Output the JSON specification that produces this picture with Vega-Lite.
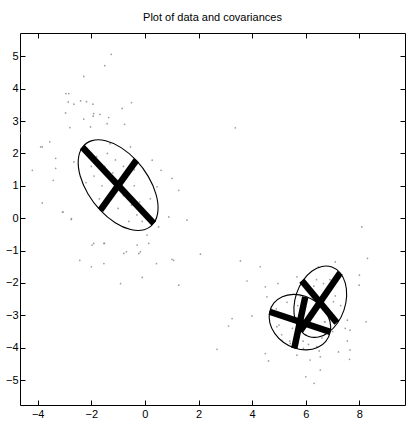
{
  "$schema": "https://vega.github.io/schema/vega-lite/v6.json",
  "autosize": "none",
  "width": 385,
  "height": 372,
  "padding": {"left": 20, "top": 33, "right": 1, "bottom": 20},
  "background": "white",
  "view": {"stroke": null},
  "title": {"text": "Plot of data and covariances", "font": "Liberation Sans", "fontSize": 11, "fontWeight": "normal", "color": "black", "offset": 10, "anchor": "middle"},
  "config": {
    "axis": {"domainColor": "black", "tickColor": "black", "labelColor": "black", "labelFont": "Liberation Sans", "labelFontSize": 11, "grid": false, "title": null, "tickSize": -5, "domainWidth": 1, "tickWidth": 1}
  },
  "datasets": {
    "pts": [
      {"x": -1.26, "y": 5.06}, {"x": -1.5, "y": 4.71}, {"x": -2.28, "y": 4.38}, {"x": -2.84, "y": 3.85}, {"x": -2.95, "y": 3.85},
      {"x": -2.86, "y": 3.59}, {"x": -2.4, "y": 3.62}, {"x": -2.18, "y": 3.6}, {"x": -2.65, "y": 3.52}, {"x": -1.94, "y": 3.52},
      {"x": -0.5, "y": 3.57}, {"x": -0.85, "y": 3.39}, {"x": -2.96, "y": 3.25}, {"x": -1.68, "y": 3.21}, {"x": -1.93, "y": 3.15},
      {"x": -1.35, "y": 3.11}, {"x": -2.28, "y": 3.06}, {"x": -0.76, "y": 2.9}, {"x": -2.8, "y": 2.8}, {"x": -2.03, "y": 2.82},
      {"x": -3.42, "y": 1.17}, {"x": -3.83, "y": 2.2}, {"x": -3.33, "y": 1.85}, {"x": -3.33, "y": 1.54}, {"x": -2.65, "y": 1.74},
      {"x": -3.08, "y": 0.19}, {"x": -2.74, "y": -0.01}, {"x": -1.91, "y": -0.78}, {"x": -1.53, "y": -0.78}, {"x": -0.17, "y": -1.04},
      {"x": 0.08, "y": -0.52}, {"x": 0.51, "y": -0.27}, {"x": 0.89, "y": 0.04}, {"x": 1.26, "y": 0.86}, {"x": 1.57, "y": -0.06},
      {"x": 1.01, "y": 1.23}, {"x": 0.27, "y": 1.79}, {"x": 0.6, "y": 1.48}, {"x": 0.45, "y": 0.97}, {"x": -0.79, "y": -1.09},
      {"x": 1.07, "y": -1.3}, {"x": -0.54, "y": 2.2}, {"x": -1.41, "y": 2.92}, {"x": -1.91, "y": 3.23}, {"x": -3.83, "y": 0.47},
      {"x": -3.05, "y": 0.19}, {"x": -2.75, "y": -0.04}, {"x": -2.43, "y": -1.3}, {"x": -2.0, "y": -1.5}, {"x": -1.51, "y": -0.78},
      {"x": -1.53, "y": -1.4}, {"x": -0.91, "y": -2.02}, {"x": -0.1, "y": -1.83}, {"x": -0.69, "y": -1.04}, {"x": -0.29, "y": -0.83},
      {"x": -0.23, "y": -1.09}, {"x": 0.14, "y": -0.78}, {"x": -1.97, "y": -0.83}, {"x": -4.64, "y": 2.62}, {"x": -4.2, "y": 1.48},
      {"x": -3.89, "y": 2.2}, {"x": -3.55, "y": 2.36}, {"x": 3.37, "y": 2.79},
      {"x": -1.8, "y": 1.9}, {"x": -1.5, "y": 1.6}, {"x": -1.2, "y": 1.4}, {"x": -0.8, "y": 0.7}, {"x": -0.5, "y": 0.4},
      {"x": -0.3, "y": 0.1}, {"x": -1.6, "y": 1.0}, {"x": -1.3, "y": 0.6}, {"x": -0.7, "y": 1.3}, {"x": -0.4, "y": 1.0},
      {"x": -1.9, "y": 1.3}, {"x": -2.1, "y": 2.0}, {"x": -1.0, "y": 0.3}, {"x": -0.6, "y": -0.1}, {"x": -0.2, "y": 0.5},
      {"x": -1.4, "y": 2.0}, {"x": -1.1, "y": 1.8}, {"x": -0.9, "y": 1.1}, {"x": -1.7, "y": 0.6}, {"x": -2.0, "y": 1.6},
      {"x": 0.0, "y": 0.2}, {"x": -0.1, "y": -0.1}, {"x": -1.2, "y": 0.9}, {"x": -0.8, "y": 1.6}, {"x": -1.5, "y": 0.3},
      {"x": -0.4, "y": 1.5}, {"x": -2.2, "y": 1.1}, {"x": -0.6, "y": 0.6}, {"x": -1.3, "y": 2.3}, {"x": 0.2, "y": 0.6},
      {"x": 0.43, "y": -1.4}, {"x": 1.01, "y": -1.27}, {"x": 2.07, "y": -1.11}, {"x": 3.56, "y": -1.32}, {"x": 4.3, "y": -1.5},
      {"x": 1.26, "y": -2.07}, {"x": 3.81, "y": -1.94}, {"x": 4.49, "y": -2.12}, {"x": 4.96, "y": -2.02}, {"x": 5.67, "y": -1.81},
      {"x": 6.47, "y": -1.5}, {"x": 7.1, "y": -1.35}, {"x": 8.0, "y": -1.76}, {"x": 8.3, "y": -1.24}, {"x": 3.99, "y": -3.02},
      {"x": 3.25, "y": -3.1}, {"x": 3.12, "y": -3.33}, {"x": 2.69, "y": -4.05}, {"x": 4.49, "y": -4.18}, {"x": 4.61, "y": -4.41},
      {"x": 7.22, "y": -4.13}, {"x": 7.63, "y": -4.36}, {"x": 7.55, "y": -3.15}, {"x": 8.25, "y": -3.2}, {"x": 7.55, "y": -3.79},
      {"x": 6.54, "y": -4.69}, {"x": 6.0, "y": -4.9}, {"x": 6.31, "y": -5.1}, {"x": 5.67, "y": -4.23}, {"x": 6.16, "y": -4.38},
      {"x": 6.54, "y": -4.28}, {"x": 4.92, "y": -3.35}, {"x": 4.55, "y": -2.43}, {"x": 7.47, "y": -3.4}, {"x": 7.65, "y": -3.46},
      {"x": 6.66, "y": -2.02}, {"x": 7.03, "y": -2.58}, {"x": 6.72, "y": -3.2}, {"x": 5.11, "y": -3.77}, {"x": 5.42, "y": -3.87},
      {"x": 5.91, "y": -4.02}, {"x": 6.41, "y": -3.97}, {"x": 8.09, "y": -0.27}, {"x": 7.99, "y": -2.07}, {"x": 7.65, "y": -4.07},
      {"x": 6.5, "y": -2.6}, {"x": 6.8, "y": -2.2}, {"x": 6.2, "y": -2.9}, {"x": 5.9, "y": -3.1}, {"x": 6.0, "y": -3.6},
      {"x": 5.5, "y": -3.4}, {"x": 5.2, "y": -3.0}, {"x": 6.4, "y": -3.4}, {"x": 6.9, "y": -2.9}, {"x": 7.1, "y": -2.4},
      {"x": 6.3, "y": -2.1}, {"x": 5.7, "y": -2.7}, {"x": 5.4, "y": -3.8}, {"x": 6.1, "y": -3.9}, {"x": 6.6, "y": -3.7},
      {"x": 5.0, "y": -3.3}, {"x": 7.3, "y": -2.7}, {"x": 6.7, "y": -3.2}, {"x": 5.8, "y": -2.4}, {"x": 6.0, "y": -2.2},
      {"x": 5.3, "y": -2.6}, {"x": 6.4, "y": -1.9}, {"x": 5.6, "y": -4.0}, {"x": 6.2, "y": -3.3}, {"x": 7.0, "y": -3.5},
      {"x": 5.1, "y": -3.6}, {"x": 6.9, "y": -1.9}, {"x": 5.9, "y": -3.8}, {"x": 6.5, "y": -4.1}, {"x": 4.9, "y": -2.8}
    ],
    "ell": [
      {"id": 1, "t": 0, "x": 0.33, "y": -0.15}, {"id": 1, "t": 1, "x": 0.486, "y": 0.234}, {"id": 1, "t": 2, "x": 0.414, "y": 0.737}, {"id": 1, "t": 3, "x": 0.128, "y": 1.283},
      {"id": 1, "t": 4, "x": -0.33, "y": 1.79}, {"id": 1, "t": 5, "x": -0.89, "y": 2.179}, {"id": 1, "t": 6, "x": -1.466, "y": 2.391}, {"id": 1, "t": 7, "x": -1.972, "y": 2.396},
      {"id": 1, "t": 8, "x": -2.33, "y": 2.19}, {"id": 1, "t": 9, "x": -2.486, "y": 1.806}, {"id": 1, "t": 10, "x": -2.414, "y": 1.303}, {"id": 1, "t": 11, "x": -2.128, "y": 0.757},
      {"id": 1, "t": 12, "x": -1.67, "y": 0.25}, {"id": 1, "t": 13, "x": -1.11, "y": -0.139}, {"id": 1, "t": 14, "x": -0.534, "y": -0.351}, {"id": 1, "t": 15, "x": -0.028, "y": -0.356},
      {"id": 2, "t": 0, "x": 7.28, "y": -1.69}, {"id": 2, "t": 1, "x": 7.473, "y": -2.007}, {"id": 2, "t": 2, "x": 7.523, "y": -2.411}, {"id": 2, "t": 3, "x": 7.424, "y": -2.84},
      {"id": 2, "t": 4, "x": 7.19, "y": -3.23}, {"id": 2, "t": 5, "x": 6.858, "y": -3.522}, {"id": 2, "t": 6, "x": 6.477, "y": -3.669}, {"id": 2, "t": 7, "x": 6.105, "y": -3.651},
      {"id": 2, "t": 8, "x": 5.8, "y": -3.47}, {"id": 2, "t": 9, "x": 5.607, "y": -3.153}, {"id": 2, "t": 10, "x": 5.557, "y": -2.749}, {"id": 2, "t": 11, "x": 5.656, "y": -2.32},
      {"id": 2, "t": 12, "x": 5.89, "y": -1.93}, {"id": 2, "t": 13, "x": 6.222, "y": -1.638}, {"id": 2, "t": 14, "x": 6.603, "y": -1.491}, {"id": 2, "t": 15, "x": 6.975, "y": -1.509},
      {"id": 3, "t": 0, "x": 6.91, "y": -3.52}, {"id": 3, "t": 1, "x": 6.901, "y": -3.19}, {"id": 3, "t": 2, "x": 6.72, "y": -2.863}, {"id": 3, "t": 3, "x": 6.398, "y": -2.59},
      {"id": 3, "t": 4, "x": 5.98, "y": -2.41}, {"id": 3, "t": 5, "x": 5.532, "y": -2.352}, {"id": 3, "t": 6, "x": 5.122, "y": -2.425}, {"id": 3, "t": 7, "x": 4.813, "y": -2.618},
      {"id": 3, "t": 8, "x": 4.65, "y": -2.9}, {"id": 3, "t": 9, "x": 4.659, "y": -3.23}, {"id": 3, "t": 10, "x": 4.84, "y": -3.557}, {"id": 3, "t": 11, "x": 5.162, "y": -3.83},
      {"id": 3, "t": 12, "x": 5.58, "y": -4.01}, {"id": 3, "t": 13, "x": 6.028, "y": -4.068}, {"id": 3, "t": 14, "x": 6.438, "y": -3.995}, {"id": 3, "t": 15, "x": 6.747, "y": -3.802}
    ],
    "crosses": [
      {"x": -2.34, "y": 2.2, "x2": 0.33, "y2": -0.16},
      {"x": -0.32, "y": 1.79, "x2": -1.66, "y2": 0.25},
      {"x": 7.28, "y": -1.69, "x2": 5.8, "y2": -3.47},
      {"x": 5.85, "y": -1.93, "x2": 7.16, "y2": -3.23},
      {"x": 4.65, "y": -2.89, "x2": 6.91, "y2": -3.51},
      {"x": 5.98, "y": -2.43, "x2": 5.57, "y2": -4.02}
    ]
  },
  "resolve": {"axis": {"x": "independent", "y": "independent"}},
  "layer": [
    {
      "data": {"name": "pts"},
      "mark": {"type": "circle", "size": 3, "color": "#8c8c8c", "opacity": 0.85},
      "encoding": {
        "x": {"field": "x", "type": "quantitative", "scale": {"domain": [-4.66, 9.7], "nice": false, "zero": false},
              "axis": {"orient": "bottom", "values": [-4, -2, 0, 2, 4, 6, 8], "labelPadding": 8}},
        "y": {"field": "y", "type": "quantitative", "scale": {"domain": [-5.77, 5.72], "nice": false, "zero": false},
              "axis": {"orient": "left", "values": [-5, -4, -3, -2, -1, 0, 1, 2, 3, 4, 5], "labelPadding": 7}}
      }
    },
    {
      "data": {"name": "ell"},
      "mark": {"type": "line", "color": "black", "strokeWidth": 1.1, "interpolate": "cardinal-closed"},
      "encoding": {
        "x": {"field": "x", "type": "quantitative", "axis": null},
        "y": {"field": "y", "type": "quantitative", "axis": null},
        "detail": {"field": "id"},
        "order": {"field": "t", "type": "quantitative"}
      }
    },
    {
      "data": {"name": "crosses"},
      "mark": {"type": "rule", "color": "black", "strokeWidth": 6.5, "strokeCap": "butt"},
      "encoding": {
        "x": {"field": "x", "type": "quantitative", "axis": {"orient": "top", "values": [-4, -2, 0, 2, 4, 6, 8], "labels": false}},
        "y": {"field": "y", "type": "quantitative", "axis": {"orient": "right", "values": [-5, -4, -3, -2, -1, 0, 1, 2, 3, 4, 5], "labels": false}},
        "x2": {"field": "x2"},
        "y2": {"field": "y2"}
      }
    }
  ]
}
